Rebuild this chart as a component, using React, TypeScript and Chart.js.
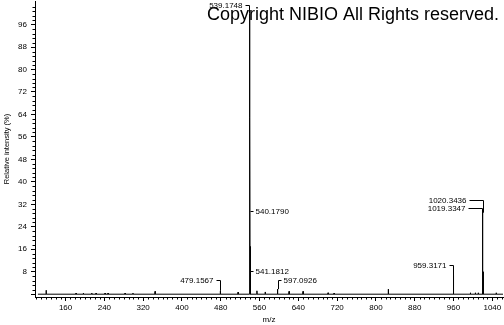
import React, { useEffect, useRef } from "react";
import { Chart, registerables } from "chart.js";

Chart.register(...registerables);

// ---- data ----
const peakMz = [120, 181.7, 196.7, 214, 223, 241.5, 247.7, 282.8, 299, 344.7, 479.1567, 515.8, 539.1748, 540.179, 541.1812, 554.6, 571.7, 597.0926, 621, 649.8, 701.4, 713.8, 825.5, 959.3171, 960.3, 994.8, 1005, 1011, 1019.3347, 1020.3436, 1021.34, 1048];
const peakIntensity = [1.4, 0.4, 0.4, 0.4, 0.4, 0.4, 0.4, 0.4, 0.4, 1.0, 1.2, 0.7, 100, 63, 17, 1.2, 0.8, 1.8, 1.0, 1.0, 0.5, 0.4, 1.8, 6.8, 2.0, 0.5, 0.5, 0.5, 28, 29, 8, 0.5];
const spectrumStart = 103;
const spectrumEnd = 1062;

const labelTexts = ["539.1748", "540.1790", "541.1812", "597.0926", "479.1567", "959.3171", "1020.3436", "1019.3347"];
const labelMz = [539.1748, 540.179, 541.1812, 597.0926, 479.1567, 959.3171, 1020.3436, 1019.3347];
const labelIntensity = [103, 29.7, 8.4, 5.1, 5.1, 10.4, 33.5, 30.7];
const labelSide = ["left", "right", "right", "right", "left", "left", "left", "left"];
const labelPeakTop = [100, 63, 17, 1.8, 1.2, 6.8, 29, 28];

const xTickValues = [160, 240, 320, 400, 480, 560, 640, 720, 800, 880, 960, 1040];
const yTickValues = [0, 8, 16, 24, 32, 40, 48, 56, 64, 72, 80, 88, 96];

const xTitle = "m/z";
const yTitle = "Relative intensity (%)";
const copyrightText = "Copyright NIBIO All Rights reserved.";

// style constants (not data)
const labelLeaderPx = [4, 3, 3, 3, 4, 4, 14, 14];
const fontFamily = "'Liberation Sans', Arial, sans-serif";
const smallFont = "8px " + fontFamily;

function buildPoints() {
  const pts: { x: number; y: number }[] = [{ x: spectrumStart, y: 0 }];
  const w = 0.3;
  peakMz.forEach((mz, i) => {
    pts.push({ x: mz - w, y: 0 });
    pts.push({ x: mz, y: peakIntensity[i] });
    pts.push({ x: mz + w, y: 0 });
  });
  pts.push({ x: spectrumEnd, y: 0 });
  return pts;
}

const decorPlugin = {
  id: "decor",
  afterDraw(chart: any) {
    const ctx = chart.ctx;
    const xs = chart.scales.x;
    const ys = chart.scales.y;
    const area = chart.chartArea;
    ctx.save();
    ctx.strokeStyle = "#000";
    ctx.lineWidth = 1;
    // minor ticks x
    ctx.beginPath();
    for (let v = 100; v <= 1060; v += 10) {
      if (v % 80 === 0) continue;
      const px = Math.round(xs.getPixelForValue(v)) + 0.5;
      if (px < area.left || px > area.right) continue;
      ctx.moveTo(px, area.bottom);
      ctx.lineTo(px, area.bottom + 2.5);
    }
    // minor ticks y
    for (let k = 1; k * 1.6 <= 104; k++) {
      if (k % 5 === 0) continue;
      const py = Math.round(ys.getPixelForValue(k * 1.6)) + 0.5;
      if (py < area.top) continue;
      ctx.moveTo(area.left, py);
      ctx.lineTo(area.left - 2.5, py);
    }
    ctx.stroke();

    // peak labels
    ctx.font = smallFont;
    ctx.fillStyle = "#000";
    ctx.textBaseline = "middle";
    labelTexts.forEach((t, i) => {
      const px = Math.round(xs.getPixelForValue(labelMz[i])) + 0.5;
      const py = Math.round(ys.getPixelForValue(labelIntensity[i])) + 0.5;
      const topPy = ys.getPixelForValue(labelPeakTop[i]);
      const lead = labelLeaderPx[i];
      ctx.beginPath();
      if (labelSide[i] === "left") {
        ctx.moveTo(px - lead, py);
        ctx.lineTo(px, py);
        ctx.textAlign = "right";
        ctx.fillText(t, px - lead - 3, py + 0.5);
      } else {
        ctx.moveTo(px, py);
        ctx.lineTo(px + lead, py);
        ctx.textAlign = "left";
        ctx.fillText(t, px + lead + 2, py + 0.5);
      }
      if (topPy > py) {
        ctx.moveTo(px, py);
        ctx.lineTo(px, topPy);
      }
      ctx.stroke();
    });

    // copyright
    ctx.font = "18px " + fontFamily;
    ctx.textAlign = "left";
    ctx.textBaseline = "alphabetic";
    ctx.fillText(copyrightText, 207, 20);
    ctx.restore();
  },
};

export default function App() {
  const ref = useRef<HTMLCanvasElement | null>(null);
  useEffect(() => {
    document.body.style.margin = "0";
    const tickFont = { family: fontFamily, size: 8 };
    const chart = new Chart(ref.current as HTMLCanvasElement, {
      type: "line",
      data: {
        datasets: [
          {
            data: buildPoints(),
            borderColor: "#000",
            borderWidth: 1,
            pointRadius: 0,
            tension: 0,
            fill: false,
          },
        ],
      },
      options: {
        animation: false,
        responsive: false,
        maintainAspectRatio: false,
        layout: { padding: { top: 1, right: 1, left: 0, bottom: 0 } },
        plugins: { legend: { display: false }, tooltip: { enabled: false } },
        scales: {
          x: {
            type: "linear",
            min: 97,
            max: 1062,
            afterBuildTicks: (s: any) => {
              s.ticks = xTickValues.map((v) => ({ value: v }));
            },
            afterFit: (s: any) => {
              s.height = 28;
              s.paddingLeft = 0;
              s.paddingRight = 0;
            },
            ticks: {
              autoSkip: false,
              maxRotation: 0,
              padding: 2,
              color: "#000",
              font: tickFont,
              callback: (v: any) => String(v),
            },
            grid: { drawOnChartArea: false, drawTicks: true, tickLength: 4, color: "#000" },
            border: { display: true, color: "#000", width: 1 },
            title: { display: true, text: xTitle, color: "#000", font: tickFont, padding: { top: 0, bottom: 0 } },
          },
          y: {
            type: "linear",
            min: -1,
            max: 104.4,
            afterBuildTicks: (s: any) => {
              s.ticks = yTickValues.map((v) => ({ value: v }));
            },
            afterFit: (s: any) => {
              s.width = 35;
              s.paddingTop = 0;
              s.paddingBottom = 0;
            },
            ticks: {
              autoSkip: false,
              padding: 4,
              color: "#000",
              font: tickFont,
              callback: (v: any) => (v === 0 ? "" : String(v)),
            },
            grid: { drawOnChartArea: false, drawTicks: true, tickLength: 4, color: "#000" },
            border: { display: true, color: "#000", width: 1 },
            title: {
              display: true,
              text: yTitle,
              color: "#000",
              font: { family: fontFamily, size: 7.5 },
              padding: { top: 2, bottom: 0 },
            },
          },
        },
      },
      plugins: [decorPlugin],
    });
    return () => chart.destroy();
  }, []);
  return <canvas ref={ref} width={504} height={325} style={{ display: "block", width: 504, height: 325 }} />;
}
